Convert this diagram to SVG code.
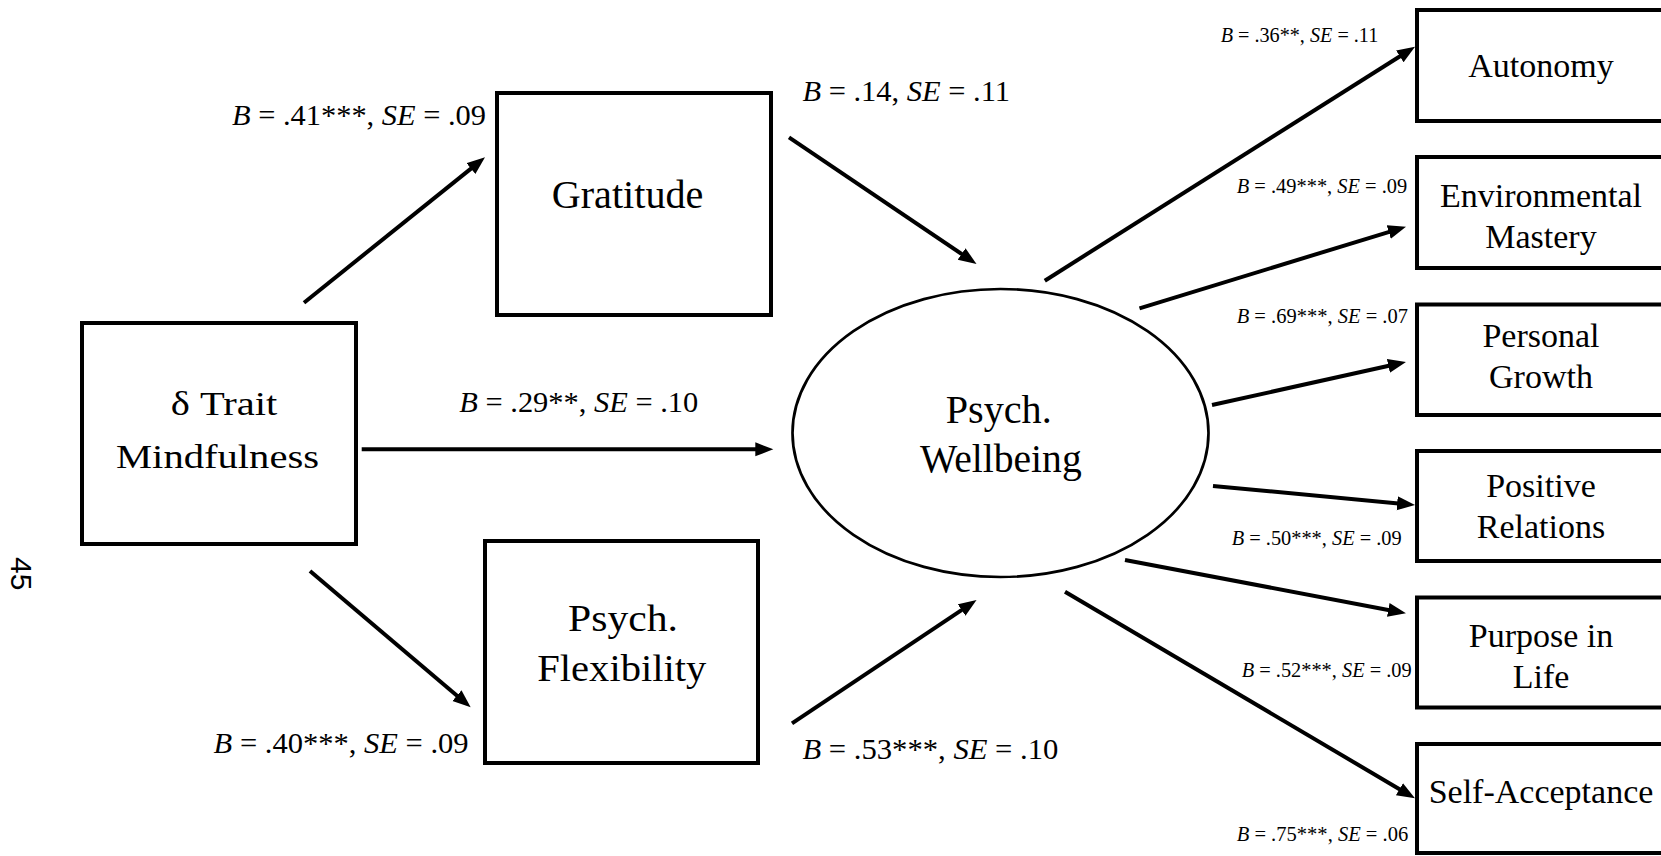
<svg xmlns="http://www.w3.org/2000/svg" width="1661" height="856" viewBox="0 0 1661 856" font-family="'Liberation Serif', 'Times New Roman', Tinos, 'DejaVu Serif', serif">
<style>
  .t { font-family: 'Liberation Serif', 'Times New Roman', Tinos, 'DejaVu Serif', serif; fill: #000; }
  .box { fill: #fff; stroke: #000; stroke-width: 4; }
  .ell { fill: #fff; stroke: #000; stroke-width: 2.7; }
  .edge { stroke: #000; stroke-width: 4; fill: none; marker-end: url(#ah); }
  .lbl { font-size: 30px; }
  .lbs { font-size: 21px; }
  .rt { font-size: 34px; text-anchor: middle; }
  .it { font-style: italic; }
  .pg { font-family: 'Liberation Sans', Arial, sans-serif; font-size: 30px; fill: #000; }
</style>
<defs>
  <marker id="ah" markerUnits="userSpaceOnUse" markerWidth="20" markerHeight="16" refX="4" refY="7" orient="auto">
    <path d="M0,0 L18,7 L0,14 z" fill="#000"/>
  </marker>
</defs>
<rect width="1661" height="856" fill="#fff"/>

<g id="connectors">
  <line class="edge" x1="304" y1="302.7" x2="474.1" y2="166.1"/>
  <line class="edge" x1="361.7" y1="449.3" x2="759.3" y2="449.3"/>
  <line class="edge" x1="310" y1="571" x2="460" y2="698.2"/>
  <line class="edge" x1="789" y1="137.3" x2="964.9" y2="256.2"/>
  <line class="edge" x1="792" y1="723.3" x2="964.9" y2="607.8"/>
  <line class="edge" x1="1044.8" y1="280.7" x2="1403.2" y2="54.2"/>
  <line class="edge" x1="1139.5" y1="308.3" x2="1392.6" y2="230.8"/>
  <line class="edge" x1="1212" y1="405" x2="1392.3" y2="365"/>
  <line class="edge" x1="1213" y1="486" x2="1401.1" y2="503.7"/>
  <line class="edge" x1="1125" y1="560" x2="1392.2" y2="610.7"/>
  <line class="edge" x1="1065" y1="591.7" x2="1402.9" y2="791.2"/>
</g>

<g id="labels">
  <text class="t lbl" x="232" y="125" textLength="254" lengthAdjust="spacingAndGlyphs"><tspan class="it">B</tspan> = .41***, <tspan class="it">SE</tspan> = .09</text>
  <text class="t lbl" x="802.4" y="100.7" textLength="207.6" lengthAdjust="spacingAndGlyphs"><tspan class="it">B</tspan> = .14, <tspan class="it">SE</tspan> = .11</text>
  <text class="t lbl" style="font-size:29px" x="459.3" y="411.7" textLength="239" lengthAdjust="spacingAndGlyphs"><tspan class="it">B</tspan> = .29**, <tspan class="it">SE</tspan> = .10</text>
  <text class="t lbl" x="213.6" y="752.7" textLength="255" lengthAdjust="spacingAndGlyphs"><tspan class="it">B</tspan> = .40***, <tspan class="it">SE</tspan> = .09</text>
  <text class="t lbl" x="802.4" y="759.3" textLength="256" lengthAdjust="spacingAndGlyphs"><tspan class="it">B</tspan> = .53***, <tspan class="it">SE</tspan> = .10</text>
  <text class="t lbs" x="1220.7" y="41.7" textLength="157.6" lengthAdjust="spacingAndGlyphs"><tspan class="it">B</tspan> = .36**, <tspan class="it">SE</tspan> = .11</text>
  <text class="t lbs" x="1236.7" y="193.3" textLength="170.6" lengthAdjust="spacingAndGlyphs"><tspan class="it">B</tspan> = .49***, <tspan class="it">SE</tspan> = .09</text>
  <text class="t lbs" x="1236.7" y="323.3" textLength="171.3" lengthAdjust="spacingAndGlyphs"><tspan class="it">B</tspan> = .69***, <tspan class="it">SE</tspan> = .07</text>
  <text class="t lbs" x="1231.7" y="545" textLength="170" lengthAdjust="spacingAndGlyphs"><tspan class="it">B</tspan> = .50***, <tspan class="it">SE</tspan> = .09</text>
  <text class="t lbs" x="1241.7" y="676.7" textLength="170" lengthAdjust="spacingAndGlyphs"><tspan class="it">B</tspan> = .52***, <tspan class="it">SE</tspan> = .09</text>
  <text class="t lbs" x="1236.7" y="840.7" textLength="171.6" lengthAdjust="spacingAndGlyphs"><tspan class="it">B</tspan> = .75***, <tspan class="it">SE</tspan> = .06</text>
</g>

<g id="mindfulness">
  <rect class="box" x="82" y="323" width="274" height="221"/>
  <text class="t" x="170.7" y="415" style="font-size:33px" textLength="106.7" lengthAdjust="spacingAndGlyphs">δ Trait</text>
  <text class="t" x="116" y="468.3" style="font-size:33px" textLength="203" lengthAdjust="spacingAndGlyphs">Mindfulness</text>
</g>

<g id="gratitude">
  <rect class="box" x="497" y="93" width="274" height="222"/>
  <text class="t" x="551.7" y="208" style="font-size:40px" textLength="151.7" lengthAdjust="spacingAndGlyphs">Gratitude</text>
</g>

<g id="flexibility">
  <rect class="box" x="485" y="541" width="273" height="222"/>
  <text class="t" x="568" y="631" style="font-size:38px" textLength="110" lengthAdjust="spacingAndGlyphs">Psych.</text>
  <text class="t" x="537.3" y="681" style="font-size:38px" textLength="169" lengthAdjust="spacingAndGlyphs">Flexibility</text>
</g>

<g id="wellbeing">
  <ellipse class="ell" cx="1000.5" cy="433" rx="208" ry="144"/>
  <text class="t" x="945.7" y="423.3" style="font-size:40px" textLength="106" lengthAdjust="spacingAndGlyphs">Psych.</text>
  <text class="t" x="920" y="472.3" style="font-size:40px" textLength="161.7" lengthAdjust="spacingAndGlyphs">Wellbeing</text>
</g>

<g id="autonomy">
  <rect class="box" x="1417" y="10" width="250" height="111"/>
  <text class="t rt" x="1541" y="77.3">Autonomy</text>
</g>

<g id="environmental">
  <rect class="box" x="1417" y="157" width="250" height="111"/>
  <text class="t rt" x="1541" y="206.7">Environmental</text>
  <text class="t rt" x="1541" y="248.3">Mastery</text>
</g>

<g id="growth">
  <rect class="box" x="1417" y="304.5" width="250" height="110.5"/>
  <text class="t rt" x="1541" y="346.7">Personal</text>
  <text class="t rt" x="1541" y="388.3">Growth</text>
</g>

<g id="relations">
  <rect class="box" x="1417" y="451" width="250" height="110"/>
  <text class="t rt" x="1541" y="497.3">Positive</text>
  <text class="t rt" x="1541" y="538.3">Relations</text>
</g>

<g id="purpose">
  <rect class="box" x="1417" y="597.5" width="250" height="110"/>
  <text class="t rt" x="1541" y="646.7">Purpose in</text>
  <text class="t rt" x="1541" y="688.3">Life</text>
</g>

<g id="selfacceptance">
  <rect class="box" x="1417" y="744" width="250" height="109"/>
  <text class="t rt" x="1541" y="803.3">Self-Acceptance</text>
</g>

<g id="page-number">
  <text class="pg" transform="translate(11,557) rotate(90)">45</text>
</g>
</svg>
